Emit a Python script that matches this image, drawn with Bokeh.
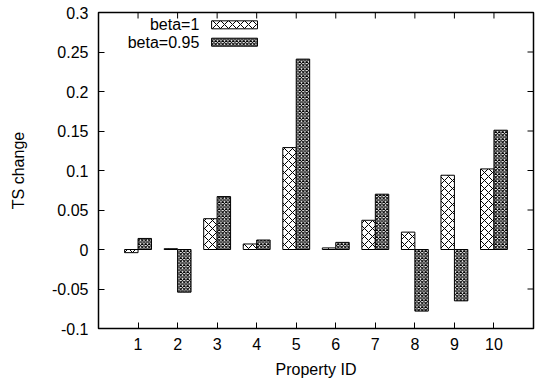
import math
from bokeh.plotting import figure
from bokeh.models import (ColumnDataSource, FixedTicker, Range1d, Label,
                          BoxAnnotation)
from bokeh.transform import dodge
from bokeh.embed import file_html
from bokeh.resources import INLINE

# ---- data ----
property_ids = [1, 2, 3, 4, 5, 6, 7, 8, 9, 10]
beta_1 = [-0.004, 0.001, 0.039, 0.007, 0.129, 0.002, 0.037, 0.022, 0.094, 0.102]
beta_095 = [0.014, -0.054, 0.067, 0.012, 0.241, 0.009, 0.070, -0.078, -0.065, 0.151]
series_labels = ["beta=1", "beta=0.95"]
y_ticks = [-0.1, -0.05, 0, 0.05, 0.1, 0.15, 0.2, 0.25, 0.3]
y_tick_labels = ["-0.1", "-0.05", "0", "0.05", "0.1", "0.15", "0.2", "0.25", "0.3"]

FONT = "Liberation Sans"
FS = "16px"
BAR_W = 0.34
X0, X1 = 0, 11
Y0, Y1 = -0.1, 0.3

src = ColumnDataSource(dict(id=property_ids, b1=beta_1, b095=beta_095))

p = figure(width=535, height=386, output_backend="svg", toolbar_location=None,
           x_range=Range1d(X0, X1), y_range=Range1d(Y0, Y1),
           min_border_left=98, min_border_right=2, min_border_top=12,
           min_border_bottom=58)
p.background_fill_color = "white"
p.border_fill_color = "white"
p.outline_line_color = "black"
p.outline_line_width = 1.5
p.grid.visible = False

p.vbar(x=dodge("id", -BAR_W / 2), top="b1", bottom=0, width=BAR_W, source=src,
       fill_color="white", line_color="black", line_width=1,
       hatch_pattern="diagonal_cross", hatch_color="black", hatch_scale=8,
       hatch_weight=1)
p.vbar(x=dodge("id", BAR_W / 2), top="b095", bottom=0, width=BAR_W, source=src,
       fill_color="white", line_color="black", line_width=1,
       hatch_pattern="diagonal_cross", hatch_color="black", hatch_scale=3.5,
       hatch_weight=1.1)

# axes
for ax in (p.xaxis[0], p.yaxis[0]):
    ax.major_tick_in = 6
    ax.major_tick_out = 0
    ax.minor_tick_in = 0
    ax.minor_tick_out = 0
    ax.axis_line_color = "black"
    ax.major_label_text_font = FONT
    ax.major_label_text_font_size = FS
    ax.major_label_text_color = "black"
    ax.axis_label_text_font = FONT
    ax.axis_label_text_font_size = FS
    ax.axis_label_text_font_style = "normal"
    ax.axis_label_text_color = "black"

p.xaxis.ticker = FixedTicker(ticks=property_ids)
p.xaxis.axis_label = "Property ID"
p.xaxis.major_label_standoff = 9
p.xaxis.axis_label_standoff = 8
p.yaxis.ticker = FixedTicker(ticks=y_ticks)
p.yaxis.major_label_overrides = {t: l for t, l in zip(y_ticks, y_tick_labels)}
p.yaxis.axis_label = "TS change"
p.yaxis.major_label_standoff = 10
p.yaxis.axis_label_standoff = 22

# mirror ticks on top and right (inward)
p.ray(x=property_ids, y=[Y1] * len(property_ids), length=6, length_units="screen",
      angle=-math.pi / 2, line_color="black", line_width=1)
p.ray(x=[X1] * len(y_ticks), y=y_ticks, length=6, length_units="screen",
      angle=math.pi, line_color="black", line_width=1)

# legend (label left of swatch, gnuplot style)
leg_text_x = 2.55
sw_left, sw_right = 2.86, 4.02
row_y = [0.2844, 0.2624]
sw_h = 0.0101
hatch = [dict(hatch_scale=8, hatch_weight=1), dict(hatch_scale=3.5, hatch_weight=1.1)]
for lab, yy, h in zip(series_labels, row_y, hatch):
    p.add_layout(Label(x=leg_text_x, y=yy, text=lab, text_align="right",
                       text_baseline="middle", text_font=FONT,
                       text_font_size=FS, text_color="black"))
    p.add_layout(BoxAnnotation(left=sw_left, right=sw_right, bottom=yy - sw_h / 2,
                               top=yy + sw_h / 2, fill_color="white", fill_alpha=1,
                               line_color="black", line_width=1, line_alpha=1,
                               hatch_pattern="diagonal_cross", hatch_color="black",
                               hatch_alpha=1, **h))

open("out.html", "w").write(file_html(p, INLINE))
